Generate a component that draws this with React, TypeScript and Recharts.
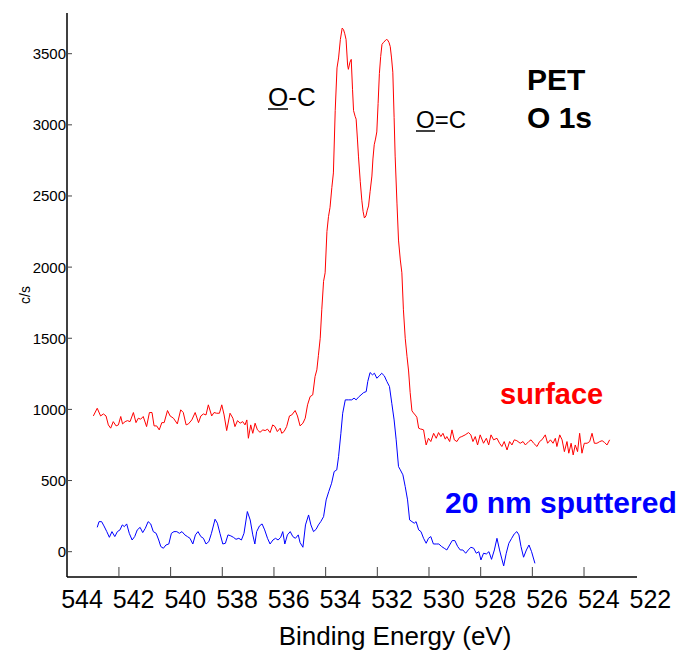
import { LineChart, Line, XAxis, YAxis } from "recharts";

// O 1s spectrum of PET, binding energy (eV) vs counts per second
const redEnergy = [
  543.56, 543.41, 543.28, 543.17, 543.07, 542.98, 542.89, 542.79, 542.68, 542.59,
  542.5, 542.43, 542.33, 542.24, 542.14, 542.01, 541.91, 541.82, 541.73, 541.63,
  541.5, 541.39, 541.29, 541.21, 541.11, 541.01, 540.91, 540.82, 540.69, 540.59,
  540.46, 540.31, 540.18, 540.08, 539.97, 539.88, 539.75, 539.62, 539.49, 539.4,
  539.3, 539.2, 539.11, 538.98, 538.89, 538.79, 538.68, 538.59, 538.5, 538.4,
  538.27, 538.16, 538.08, 537.98, 537.88, 537.78, 537.69, 537.62, 537.56, 537.47,
  537.39, 537.3, 537.21, 537.11, 537.0, 536.91, 536.82, 536.72, 536.62, 536.53,
  536.44, 536.33, 536.27, 536.18, 536.08, 535.97, 535.88, 535.75, 535.66, 535.56,
  535.45, 535.36, 535.27, 535.17, 535.07, 534.98, 534.91, 534.85, 534.78, 534.72,
  534.65, 534.59, 534.52, 534.46, 534.4, 534.33, 534.27, 534.2, 534.13, 534.07,
  534.0, 533.93, 533.88, 533.83, 533.78, 533.72, 533.69, 533.63, 533.58, 533.53,
  533.49, 533.43, 533.39, 533.34, 533.3, 533.23, 533.17, 533.12, 533.07, 533.01,
  532.96, 532.91, 532.85, 532.78, 532.74, 532.69, 532.64, 532.59, 532.54, 532.49,
  532.44, 532.39, 532.33, 532.27, 532.22, 532.18, 532.12, 532.07, 532.02, 531.97,
  531.92, 531.88, 531.81, 531.75, 531.68, 531.62, 531.56, 531.49, 531.42, 531.36,
  531.3, 531.23, 531.17, 531.1, 531.04, 530.97, 530.9, 530.84, 530.78, 530.72,
  530.68, 530.59, 530.5, 530.39, 530.29, 530.2, 530.11, 530.03, 529.94, 529.88,
  529.77, 529.68, 529.59, 529.49, 529.39, 529.3, 529.17, 529.04, 528.95, 528.87,
  528.78, 528.69, 528.59, 528.46, 528.35, 528.26, 528.17, 528.07, 527.94, 527.84,
  527.75, 527.66, 527.55, 527.45, 527.36, 527.27, 527.17, 527.04, 526.93, 526.84,
  526.71, 526.62, 526.52, 526.39, 526.29, 526.2, 526.07, 525.98, 525.87, 525.77,
  525.68, 525.62, 525.51, 525.42, 525.33, 525.23, 525.16, 525.07, 524.99, 524.91,
  524.82, 524.74, 524.65, 524.56, 524.45, 524.35, 524.26, 524.17, 524.07, 523.96,
  523.87, 523.78, 523.68, 523.58,
];
const redCounts = [
  954, 1008, 954, 968, 954, 891, 868, 914, 884, 891,
  950, 898, 914, 921, 914, 978, 907, 938, 931, 950,
  879, 978, 978, 884, 884, 856, 907, 907, 992, 954,
  938, 898, 997, 978, 891, 898, 926, 978, 907, 954,
  968, 961, 1032, 954, 978, 973, 973, 1032, 961, 851,
  973, 938, 879, 921, 903, 914, 891, 926, 797, 891,
  832, 903, 856, 839, 856, 851, 861, 837, 891, 879,
  844, 868, 832, 844, 879, 954, 961, 992, 954, 884,
  903, 938, 1032, 1090, 1102, 1231, 1278, 1380, 1500, 1700,
  1900, 1960, 2250, 2355, 2420, 2560, 2662, 3100, 3400, 3470,
  3600, 3680, 3670, 3640, 3600, 3420, 3390, 3440, 3460, 3250,
  3100, 3060, 3040, 2900, 2780, 2600, 2470, 2390, 2345, 2360,
  2400, 2430, 2530, 2640, 2760, 2860, 2900, 2950, 3150, 3360,
  3480, 3565, 3580, 3590, 3600, 3598, 3580, 3550, 3470, 3370,
  3050, 2780, 2450, 2190, 2050, 1960, 1700, 1500, 1370, 1270,
  1120, 990, 975, 960, 945, 868, 862, 860, 856, 790,
  750, 797, 774, 832, 797, 837, 809, 832, 791, 809,
  774, 856, 786, 774, 803, 809, 821, 837, 821, 774,
  809, 750, 821, 762, 797, 750, 821, 786, 797, 762,
  739, 774, 715, 774, 750, 786, 780, 762, 774, 750,
  774, 786, 762, 739, 774, 786, 821, 762, 786, 762,
  797, 739, 821, 786, 703, 774, 692, 762, 680, 750,
  703, 832, 692, 762, 762, 774, 832, 762, 762, 774,
  780, 768, 750, 786,
];

const blueEnergy = [
  543.41, 543.34, 543.24, 543.15, 543.04, 542.94, 542.84, 542.73, 542.63, 542.53,
  542.44, 542.36, 542.27, 542.17, 542.06, 541.96, 541.86, 541.75, 541.65, 541.55,
  541.44, 541.34, 541.24, 541.13, 541.03, 540.95, 540.85, 540.75, 540.64, 540.54,
  540.44, 540.33, 540.23, 540.13, 540.02, 539.92, 539.82, 539.71, 539.61, 539.51,
  539.4, 539.3, 539.2, 539.09, 538.99, 538.85, 538.76, 538.66, 538.55, 538.45,
  538.35, 538.24, 538.14, 538.04, 537.93, 537.83, 537.73, 537.6, 537.49, 537.39,
  537.31, 537.24, 537.13, 537.03, 536.93, 536.82, 536.72, 536.61, 536.51, 536.41,
  536.31, 536.23, 536.15, 536.05, 535.94, 535.84, 535.74, 535.63, 535.56, 535.45,
  535.35, 535.23, 535.14, 535.04, 534.94, 534.85, 534.76, 534.65, 534.55, 534.45,
  534.34, 534.24, 534.14, 534.07, 533.98, 533.91, 533.81, 533.69, 533.56, 533.47,
  533.39, 533.3, 533.2, 533.1, 533.0, 532.94, 532.85, 532.76, 532.68, 532.59,
  532.49, 532.4, 532.3, 532.2, 532.1, 532.01, 531.92, 531.84, 531.75, 531.68,
  531.58, 531.49, 531.4, 531.32, 531.23, 531.14, 531.07, 530.97, 530.88, 530.78,
  530.68, 530.59, 530.5, 530.4, 530.29, 530.19, 530.08, 529.98, 529.88, 529.77,
  529.67, 529.57, 529.46, 529.36, 529.26, 529.15, 529.05, 528.95, 528.84, 528.74,
  528.64, 528.56, 528.46, 528.35, 528.25, 528.15, 528.04, 527.94, 527.84, 527.76,
  527.68, 527.58, 527.48, 527.37, 527.27, 527.17, 527.09, 527.01, 526.91, 526.8,
  526.7, 526.6, 526.47,
];
const blueCounts = [
  171, 211, 211, 181, 141, 101, 141, 106, 141, 153,
  188, 176, 195, 129, 82, 106, 153, 171, 134, 164,
  211, 195, 141, 129, 82, 36, 24, 47, 54, 129,
  141, 141, 129, 141, 118, 106, 94, 54, 118, 141,
  106, 94, 54, 71, 129, 228, 200, 129, 54, 59,
  118, 111, 101, 87, 94, 82, 129, 282, 223, 118,
  54, 141, 181, 195, 153, 94, 54, 82, 94, 82,
  101, 141, 54, 118, 141, 106, 94, 118, 64, 31,
  188, 258, 188, 141, 157, 188, 211, 246, 364, 422,
  481, 563, 575, 668, 832, 973, 1067, 1067, 1067, 1079,
  1067, 1086, 1102, 1118, 1125, 1196, 1259, 1243, 1254, 1219,
  1236, 1254, 1236, 1196, 1161, 1043, 926, 786, 598, 575,
  540, 457, 364, 223, 211, 200, 211, 153, 141, 94,
  59, 94, 106, 54, 54, 54, 36, 24, 12, 47,
  78, 78, 36, 12, 12, -11, 12, 31, 24, -11,
  0, -58, -11, -16, 0, -54, 12, 94, 12, -45,
  -100, -11, 59, 94, 125, 141, 118, 36, -39, 12,
  47, 0, -82,
];

const xLabels = [544, 542, 540, 538, 536, 534, 532, 530, 528, 526, 524, 522];
const xMarks = [542.57, 540.57, 538.57, 536.57, 534.57, 532.57, 530.57, 528.57, 526.57, 524.57];
const yTicks = [0, 500, 1000, 1500, 2000, 2500, 3000, 3500];

const surface = redEnergy.map((e, i) => ({ e, cps: redCounts[i] }));
const sputtered = blueEnergy.map((e, i) => ({ e, cps: blueCounts[i] }));

const FONT = '"Liberation Sans", Arial, sans-serif';
const X_DOMAIN = [522.52, 544.58];
const Y_DOMAIN = [-178, 3786];
const axisLine = { stroke: "#000", strokeWidth: 1.5 };

function BottomTick(props: any) {
  const { x, y, payload } = props;
  if (xMarks.includes(payload.value)) {
    return <line x1={x} x2={x} y1={y} y2={y - 10} stroke="#444" strokeWidth={1} />;
  }
  return (
    <text x={x} y={y + 31} textAnchor="middle" fontSize={25} fontFamily={FONT} fill="#000">
      {payload.value}
    </text>
  );
}

function TopTick(props: any) {
  const { x, y } = props;
  return <line x1={x} x2={x} y1={y} y2={y + 10} stroke="#444" strokeWidth={1} />;
}

function LeftTick(props: any) {
  const { x, y, payload } = props;
  return (
    <g>
      <line x1={x} x2={x + 5} y1={y} y2={y} stroke="#444" strokeWidth={1} />
      <text x={x - 1} y={y + 5.5} textAnchor="end" fontSize={15} fontFamily={FONT} fill="#000">
        {payload.value}
      </text>
    </g>
  );
}

function RightTick(props: any) {
  const { x, y } = props;
  return <line x1={x - 7} x2={x} y1={y} y2={y} stroke="#444" strokeWidth={1} />;
}

export default function App() {
  return (
    <div style={{ position: "absolute", left: 0, top: 0, width: 680, height: 655 }}>
      <LineChart width={680} height={655} margin={{ top: 13, right: 43, left: 7, bottom: 18 }}>
        <XAxis
          xAxisId="bottom"
          dataKey="e"
          type="number"
          domain={X_DOMAIN}
          allowDataOverflow
          reversed
          ticks={[...xLabels, ...xMarks]}
          interval={0}
          tick={<BottomTick />}
          tickLine={false}
          tickSize={0}
          tickMargin={0}
          axisLine={axisLine}
          height={60}
        />
        <XAxis
          xAxisId="top"
          orientation="top"
          type="number"
          domain={X_DOMAIN}
          allowDataOverflow
          reversed
          ticks={xMarks}
          interval={0}
          tick={<TopTick />}
          tickLine={false}
          tickSize={0}
          tickMargin={0}
          axisLine={axisLine}
          height={0}
        />
        <YAxis
          yAxisId="left"
          type="number"
          domain={Y_DOMAIN}
          allowDataOverflow
          ticks={yTicks}
          interval={0}
          tick={<LeftTick />}
          tickLine={false}
          tickSize={0}
          tickMargin={0}
          axisLine={axisLine}
          width={60}
        />
        <YAxis
          yAxisId="right"
          orientation="right"
          type="number"
          domain={Y_DOMAIN}
          allowDataOverflow
          ticks={yTicks}
          interval={0}
          tick={<RightTick />}
          tickLine={false}
          tickSize={0}
          tickMargin={0}
          axisLine={axisLine}
          width={0}
        />
        <Line
          xAxisId="bottom"
          yAxisId="left"
          data={surface}
          dataKey="cps"
          stroke="#ff0000"
          strokeWidth={1}
          dot={false}
          type="linear"
          isAnimationActive={false}
        />
        <Line
          xAxisId="bottom"
          yAxisId="left"
          data={sputtered}
          dataKey="cps"
          stroke="#0000ff"
          strokeWidth={1}
          dot={false}
          type="linear"
          isAnimationActive={false}
        />
      </LineChart>

      {/* annotations */}
      <svg
        width={680}
        height={655}
        style={{ position: "absolute", left: 0, top: 0, pointerEvents: "none" }}
        fontFamily={FONT}
      >
        <text x={268} y={106} fontSize={26} fill="#000">O-C</text>
        <line x1={268} x2={288} y1={109} y2={109} stroke="#000" strokeWidth={1.5} />
        <text x={416} y={128} fontSize={24} fill="#000">O=C</text>
        <line x1={416} x2={435} y1={131} y2={131} stroke="#000" strokeWidth={1.5} />
        <text x={527} y={90} fontSize={30} fontWeight="bold" fill="#000">PET</text>
        <text x={527} y={128} fontSize={30} fontWeight="bold" fill="#000">O 1s</text>
        <text x={500} y={404} fontSize={29} fontWeight="bold" fill="#ff0000">surface</text>
        <text x={445} y={513} fontSize={30} fontWeight="bold" fill="#0000ff">20 nm sputtered</text>
        <text x={395} y={645} fontSize={26} textAnchor="middle" fill="#000">Binding Energy (eV)</text>
        <text x={30} y={295} fontSize={14} textAnchor="middle" fill="#000" transform="rotate(-90 30 295)">c/s</text>
      </svg>
    </div>
  );
}
